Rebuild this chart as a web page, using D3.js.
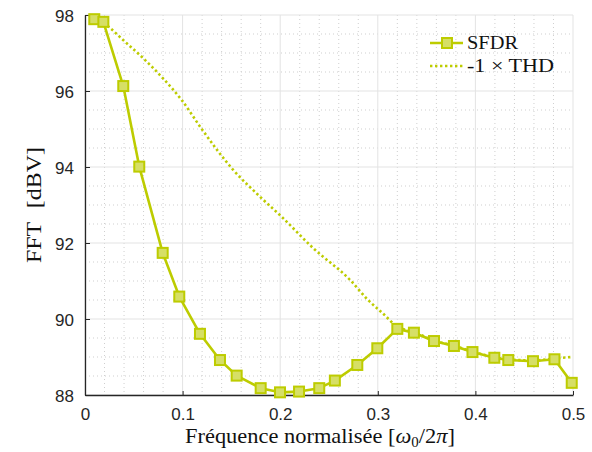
<!DOCTYPE html>
<html>
<head>
<meta charset="utf-8">
<script src="https://cdn.jsdelivr.net/npm/d3@7"></script>
<style>
  html, body { margin: 0; padding: 0; background: #fff; }
  svg { display: block; }
</style>
</head>
<body>
<svg id="chart" width="592" height="452"></svg>
<script>
// ---- data ----
const sfdrFreq = [0.0095, 0.0188, 0.0392, 0.0556, 0.0796, 0.0966, 0.1178, 0.1383, 0.1554, 0.180, 0.1998, 0.2193, 0.240, 0.256, 0.279, 0.2995, 0.320, 0.337, 0.3576, 0.378, 0.397, 0.4194, 0.4337, 0.459, 0.481, 0.4987];
const sfdrVal  = [97.89, 97.82, 96.13, 94.01, 91.74, 90.59, 89.61, 88.92, 88.51, 88.18, 88.07, 88.09, 88.18, 88.38, 88.79, 89.23, 89.74, 89.64, 89.42, 89.29, 89.13, 88.98, 88.92, 88.89, 88.94, 88.32];
const thdFreq  = [0.0095, 0.0188, 0.0256, 0.040, 0.0581, 0.0800, 0.0991, 0.1196, 0.152, 0.178, 0.2015, 0.234, 0.2715, 0.290, 0.305, 0.320, 0.337, 0.3576, 0.378, 0.397, 0.4194, 0.4337, 0.459, 0.481, 0.4987];
const thdVal   = [97.89, 97.80, 97.66, 97.32, 96.90, 96.33, 95.76, 95.00, 93.92, 93.25, 92.69, 91.86, 91.03, 90.50, 90.15, 89.80, 89.66, 89.43, 89.30, 89.14, 89.00, 88.94, 88.91, 88.96, 89.00];
const xTicks = [0, 0.1, 0.2, 0.3, 0.4, 0.5];
const xTickLabels = ["0", "0.1", "0.2", "0.3", "0.4", "0.5"];
const yTicks = [88, 90, 92, 94, 96, 98];
const yTickLabels = ["88", "90", "92", "94", "96", "98"];
const seriesNames = ["SFDR", "-1 \u00D7 THD"];

// ---- layout ----
const L = 85, R = 573, T = 15, B = 395;
const color = "#bdcc00";
const serif = "'Liberation Serif', 'Times New Roman', serif";
const svg = d3.select("#chart");
const x = d3.scaleLinear().domain([0, 0.5]).range([L, R]);
const y = d3.scaleLinear().domain([88, 98]).range([B, T]);

// minor grid
const xMinor = d3.range(0, 0.5001, 0.02).filter(v => Math.abs(v*10 - Math.round(v*10)) > 1e-6);
const yMinor = d3.range(88, 98.001, 0.5).filter(v => Math.abs(v/2 - Math.round(v/2)) > 1e-6);
const g = svg.append("g");
g.selectAll(".xm").data(xMinor).enter().append("line")
  .attr("x1", d => x(d)).attr("x2", d => x(d)).attr("y1", T).attr("y2", B)
  .attr("stroke", "#cfcfcf").attr("stroke-width", 1).attr("stroke-dasharray", "1,3");
g.selectAll(".ym").data(yMinor).enter().append("line")
  .attr("y1", d => y(d)).attr("y2", d => y(d)).attr("x1", L).attr("x2", R)
  .attr("stroke", "#cfcfcf").attr("stroke-width", 1).attr("stroke-dasharray", "1,3");
// major grid
g.selectAll(".xg").data(xTicks).enter().append("line")
  .attr("x1", d => x(d)).attr("x2", d => x(d)).attr("y1", T).attr("y2", B)
  .attr("stroke", "#e3e3e3").attr("stroke-width", 1);
g.selectAll(".yg").data(yTicks).enter().append("line")
  .attr("y1", d => y(d)).attr("y2", d => y(d)).attr("x1", L).attr("x2", R)
  .attr("stroke", "#e3e3e3").attr("stroke-width", 1);

// axes
const xAxis = d3.axisBottom(x).tickValues(xTicks).tickFormat((d, i) => xTickLabels[i]).tickSizeInner(-4).tickSizeOuter(0).tickPadding(13);
const yAxis = d3.axisLeft(y).tickValues(yTicks).tickFormat((d, i) => yTickLabels[i]).tickSizeInner(-5).tickSizeOuter(0).tickPadding(11);
const gx = svg.append("g").attr("transform", `translate(0,${B})`).call(xAxis);
const gy = svg.append("g").attr("transform", `translate(${L},0)`).call(yAxis);
[gx, gy].forEach(a => {
  a.select(".domain").attr("stroke", "#262626").attr("stroke-width", 1.3);
  a.selectAll(".tick line").attr("stroke", "#262626").attr("stroke-width", 1);
  a.selectAll(".tick text").attr("fill", "#262626").attr("font-family", "'Liberation Sans', Arial, sans-serif").attr("font-size", 17);
});
gy.selectAll(".tick text").attr("dy", "0.36em");

// lines
const line = d3.line().x(d => x(d[0])).y(d => y(d[1]));
const thdData = thdFreq.map((f, i) => [f, thdVal[i]]);
const sfdrData = sfdrFreq.map((f, i) => [f, sfdrVal[i]]);
const lineThd = d3.line().curve(d3.curveMonotoneX).x(d => x(d[0])).y(d => y(d[1]));
svg.append("path").attr("d", lineThd(thdData)).attr("fill", "none")
  .attr("stroke", color).attr("stroke-width", 2.6).attr("stroke-dasharray", "2.4,2.6");
svg.append("path").attr("d", line(sfdrData)).attr("fill", "none")
  .attr("stroke", color).attr("stroke-width", 2.6).attr("stroke-linejoin", "round");
const ms = 10;
svg.selectAll(".mk").data(sfdrData).enter().append("rect")
  .attr("x", d => x(d[0]) - ms/2).attr("y", d => y(d[1]) - ms/2)
  .attr("width", ms).attr("height", ms)
  .attr("fill", "#d6df66").attr("stroke", color).attr("stroke-width", 2);

// legend
const lg = svg.append("g");
lg.append("line").attr("x1", 430).attr("x2", 463).attr("y1", 43).attr("y2", 43)
  .attr("stroke", color).attr("stroke-width", 2.6);
lg.append("rect").attr("x", 447 - ms/2).attr("y", 43 - ms/2).attr("width", ms).attr("height", ms)
  .attr("fill", "#d6df66").attr("stroke", color).attr("stroke-width", 2);
lg.append("line").attr("x1", 430).attr("x2", 463).attr("y1", 66).attr("y2", 66)
  .attr("stroke", color).attr("stroke-width", 2.6).attr("stroke-dasharray", "2.4,2.6");
const legendLen = [51, 87];
lg.selectAll("text").data(seriesNames).enter().append("text")
  .attr("x", 467).attr("y", (d, i) => 49 + i * 23)
  .attr("font-family", serif).attr("font-size", 19)
  .attr("textLength", (d, i) => legendLen[i]).attr("lengthAdjust", "spacingAndGlyphs")
  .attr("fill", "#111").style("white-space", "pre").text(d => d);

// axis labels
const xl = svg.append("text").attr("x", 185).attr("y", 443)
  .attr("font-family", serif).attr("font-size", 21).attr("fill", "#111")
  .attr("textLength", 270).attr("lengthAdjust", "spacingAndGlyphs");
xl.append("tspan").text("Fréquence normalisée [");
xl.append("tspan").attr("font-style", "italic").text("ω");
xl.append("tspan").attr("font-size", 14).attr("dy", 4).text("0");
xl.append("tspan").attr("dy", -4).text("/2");
xl.append("tspan").attr("font-style", "italic").text("π");
xl.append("tspan").text("]");

const yl = svg.append("text").attr("transform", "translate(41,263) rotate(-90)")
  .attr("font-family", serif).attr("font-size", 21).attr("fill", "#111")
  .attr("textLength", 116).attr("lengthAdjust", "spacingAndGlyphs");
yl.append("tspan").text("FFT");
yl.append("tspan").attr("dx", 12).text("[dBV]");
</script>
</body>
</html>
